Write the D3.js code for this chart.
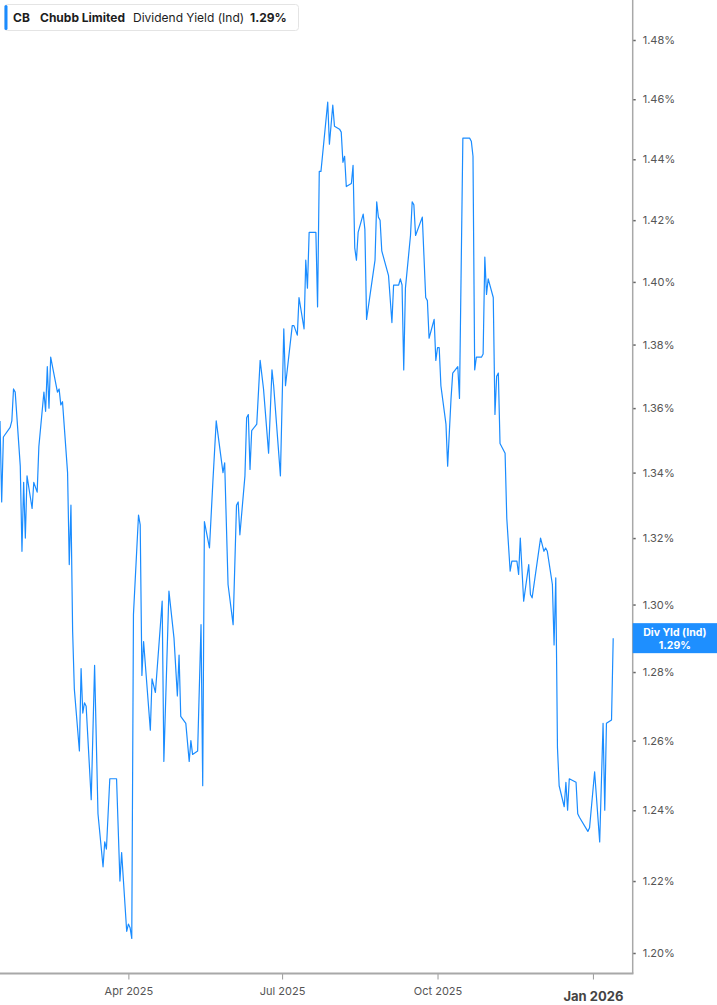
<!DOCTYPE html>
<html>
<head>
<meta charset="utf-8">
<script src="https://cdn.jsdelivr.net/npm/d3@7"></script>
<style>
  html, body { margin: 0; padding: 0; background: #fff; }
  svg { display: block; font-family: Inter, "Noto Sans", sans-serif; }
</style>
</head>
<body>
<svg id="chart" width="717" height="1005"></svg>
<script>
// trading days (2025-01-15 .. 2026-01-13)
const dates = [
  '2025-01-15','2025-01-16','2025-01-17','2025-01-21','2025-01-22','2025-01-23','2025-01-24',
  '2025-01-27','2025-01-28','2025-01-29','2025-01-30','2025-01-31','2025-02-03','2025-02-04',
  '2025-02-06','2025-02-07','2025-02-10','2025-02-11','2025-02-12','2025-02-13','2025-02-14',
  '2025-02-18','2025-02-19','2025-02-20','2025-02-21','2025-02-24','2025-02-25','2025-02-26',
  '2025-02-27','2025-02-28','2025-03-03','2025-03-04','2025-03-05','2025-03-06','2025-03-07',
  '2025-03-10','2025-03-12','2025-03-14','2025-03-17','2025-03-18','2025-03-19','2025-03-21',
  '2025-03-25','2025-03-27','2025-03-28','2025-03-31','2025-04-01','2025-04-02','2025-04-03',
  '2025-04-04','2025-04-07','2025-04-08','2025-04-09','2025-04-10','2025-04-14','2025-04-15',
  '2025-04-17','2025-04-21','2025-04-22','2025-04-25','2025-04-28','2025-04-30','2025-05-01',
  '2025-05-02','2025-05-05','2025-05-07','2025-05-08','2025-05-09','2025-05-12','2025-05-14',
  '2025-05-15','2025-05-16','2025-05-19','2025-05-21','2025-05-23','2025-05-27','2025-05-28',
  '2025-05-30','2025-06-02','2025-06-04','2025-06-05','2025-06-06','2025-06-09','2025-06-10',
  '2025-06-11','2025-06-12','2025-06-13','2025-06-16','2025-06-18','2025-06-20','2025-06-23',
  '2025-06-25','2025-06-26','2025-06-30','2025-07-02','2025-07-03','2025-07-07','2025-07-08',
  '2025-07-10','2025-07-11','2025-07-14','2025-07-15','2025-07-16','2025-07-17','2025-07-18',
  '2025-07-21','2025-07-22','2025-07-23','2025-07-24','2025-07-28','2025-07-29','2025-07-31',
  '2025-08-01','2025-08-04','2025-08-05','2025-08-06','2025-08-07','2025-08-08','2025-08-11',
  '2025-08-12','2025-08-13','2025-08-14','2025-08-15','2025-08-18','2025-08-19','2025-08-20',
  '2025-08-25','2025-08-26','2025-08-27','2025-08-28','2025-08-29','2025-09-02','2025-09-04',
  '2025-09-05','2025-09-08','2025-09-09','2025-09-10','2025-09-11','2025-09-12','2025-09-15',
  '2025-09-16','2025-09-17','2025-09-18','2025-09-22','2025-09-24','2025-09-25','2025-09-26',
  '2025-09-29','2025-09-30','2025-10-01','2025-10-02','2025-10-03','2025-10-06','2025-10-07',
  '2025-10-09','2025-10-10','2025-10-13','2025-10-14','2025-10-16','2025-10-17','2025-10-20',
  '2025-10-21','2025-10-22','2025-10-23','2025-10-24','2025-10-27','2025-10-28','2025-10-29',
  '2025-10-30','2025-10-31','2025-11-03','2025-11-04','2025-11-05','2025-11-06','2025-11-07',
  '2025-11-10','2025-11-11','2025-11-13','2025-11-14','2025-11-17','2025-11-18','2025-11-19',
  '2025-11-21','2025-11-24','2025-11-25','2025-11-26','2025-12-01','2025-12-03','2025-12-04',
  '2025-12-05','2025-12-08','2025-12-09','2025-12-10','2025-12-11','2025-12-12','2025-12-15',
  '2025-12-16','2025-12-17','2025-12-18','2025-12-22','2025-12-23','2025-12-24','2025-12-29',
  '2025-12-30','2026-01-02','2026-01-05','2026-01-07','2026-01-08','2026-01-09','2026-01-12',
  '2026-01-13'
]

// dividend yield (%), same order as dates
const yields = [
  1.356,1.331,1.351,1.354,1.356,1.366,1.365,
  1.342,1.316,1.337,1.320,1.339,1.329,1.337,
  1.334,1.348,1.365,1.359,1.373,1.360,1.376,
  1.365,1.366,1.361,1.362,1.340,1.312,1.330,
  1.292,1.275,1.257,1.281,1.268,1.271,1.270,
  1.243,1.282,1.239,1.224,1.231,1.229,1.249,
  1.249,1.220,1.228,1.206,1.208,1.207,1.204,
  1.297,1.327,1.324,1.279,1.289,1.263,1.278,
  1.274,1.301,1.254,1.304,1.290,1.273,1.285,
  1.267,1.265,1.254,1.260,1.256,1.257,1.294,
  1.247,1.325,1.317,1.337,1.356,1.340,1.343,
  1.306,1.294,1.330,1.331,1.321,1.339,1.357,
  1.358,1.341,1.353,1.355,1.375,1.366,1.346,
  1.372,1.367,1.339,1.385,1.367,1.386,1.386,
  1.383,1.395,1.385,1.407,1.398,1.416,1.416,
  1.416,1.392,1.436,1.436,1.459,1.445,1.458,
  1.451,1.450,1.449,1.439,1.441,1.431,1.432,
  1.438,1.411,1.407,1.416,1.422,1.417,1.388,
  1.407,1.426,1.421,1.420,1.410,1.402,1.387,
  1.399,1.399,1.401,1.399,1.372,1.398,1.415,
  1.426,1.425,1.415,1.421,1.395,1.394,1.382,
  1.388,1.375,1.379,1.379,1.367,1.355,1.342,
  1.363,1.371,1.373,1.363,1.447,1.447,1.447,
  1.446,1.441,1.372,1.376,1.376,1.377,1.408,
  1.396,1.401,1.395,1.358,1.370,1.371,1.349,
  1.346,1.326,1.310,1.313,1.313,1.309,1.320,
  1.301,1.312,1.303,1.302,1.320,1.316,1.317,
  1.316,1.306,1.288,1.308,1.258,1.247,1.241,
  1.248,1.240,1.249,1.248,1.239,1.238,1.234,
  1.235,1.251,1.231,1.265,1.240,1.265,1.266,
  1.290
]

const yTicks = [1.20,1.22,1.24,1.26,1.28,1.30,1.32,1.34,1.36,1.38,1.40,1.42,1.44,1.46,1.48]
const xTicks = ['2025-04-01','2025-07-01','2025-10-01','2026-01-01']

const ticker = 'CB'
const company = 'Chubb Limited'
const metric = 'Dividend Yield (Ind)'
const badgeLabel = 'Div Yld (Ind)'

const parse = d3.timeParse('%Y-%m-%d')
const series = dates.map((d, i) => ({ date: parse(d), value: yields[i] }))
const last = series[series.length - 1]

const W = 717, H = 1005
const plotRight = 632.7, plotBottom = 973.5
const blue = '#1a8cff'

const svg = d3.select('#chart')

const x = d3.scaleTime()
  .domain([parse('2025-01-15'), new Date(2026, 0, 24, 13)])
  .range([0, plotRight])

// the value axis is logarithmic: tick gaps widen toward the bottom
const y = d3.scaleLog()
  .domain([1.20, 1.48])
  .range([953, 40])

svg.append('defs').append('clipPath').attr('id', 'plot-clip')
  .append('rect').attr('x', 0).attr('y', 0).attr('width', plotRight).attr('height', plotBottom)

// line
const line = d3.line()
  .x(d => x(d.date))
  .y(d => y(d.value))

svg.append('path')
  .datum(series)
  .attr('clip-path', 'url(#plot-clip)')
  .attr('d', line)
  .attr('fill', 'none')
  .attr('stroke', blue)
  .attr('stroke-width', 1.2)
  .attr('stroke-linejoin', 'round')

// right axis
const yAxis = d3.axisRight(y)
  .tickValues(yTicks)
  .tickSize(3)
  .tickPadding(7)
  .tickFormat(d => d.toFixed(2) + '%')

const gy = svg.append('g')
  .attr('transform', `translate(${plotRight},0)`)
  .call(yAxis)
gy.select('.domain').remove()
gy.selectAll('.tick line').attr('stroke', '#666').attr('stroke-width', 1.5)
gy.selectAll('.tick text')
  .attr('fill', '#555')
  .style('font-size', '11px')
  .style('font-family', 'Inter, sans-serif')

svg.append('line')
  .attr('x1', plotRight).attr('x2', plotRight)
  .attr('y1', 0).attr('y2', plotBottom)
  .attr('stroke', '#a8a8a8').attr('stroke-width', 1.5)

// bottom axis
const xAxis = d3.axisBottom(x)
  .tickValues(xTicks.map(parse))
  .tickSize(6)
  .tickPadding(8)
  .tickFormat(d3.timeFormat('%b %Y'))

const gx = svg.append('g')
  .attr('transform', `translate(0,${plotBottom})`)
  .call(xAxis)
gx.select('.domain').remove()
gx.selectAll('.tick line').attr('stroke', '#999').attr('stroke-width', 1)
gx.selectAll('.tick text')
  .attr('fill', '#555')
  .style('font-size', '11px')
  .style('font-family', 'Inter, sans-serif')
gx.selectAll('.tick text')
  .filter(d => d.getMonth() === 0)
  .attr('fill', '#444')
  .attr('dy', '1.05em')
  .style('font-size', '13px')
  .style('font-weight', 'bold')

svg.append('line')
  .attr('x1', 0).attr('x2', plotRight + 0.75)
  .attr('y1', plotBottom).attr('y2', plotBottom)
  .attr('stroke', '#a8a8a8').attr('stroke-width', 2)

// last-value badge on the axis
const by = y(last.value)
const bx = (plotRight + W) / 2
svg.append('rect')
  .attr('x', plotRight).attr('y', by - 15)
  .attr('width', W - plotRight).attr('height', 30)
  .attr('fill', '#1e8fff')
svg.selectAll('text.badge')
  .data([{ t: badgeLabel, dy: -2.2 }, { t: last.value.toFixed(2) + '%', dy: 10.8 }])
  .join('text')
  .attr('class', 'badge')
  .attr('x', bx).attr('y', d => by + d.dy)
  .attr('text-anchor', 'middle')
  .attr('fill', '#fff')
  .style('font-size', '10.5px').style('font-weight', 'bold')
  .text(d => d.t)

// legend header
const lg = svg.append('g').attr('transform', 'translate(4,4)')
lg.append('rect')
  .attr('x', 0.5).attr('y', 0.5).attr('width', 294).attr('height', 26)
  .attr('rx', 3)
  .attr('fill', '#fff').attr('stroke', '#e4e4e4')
lg.append('rect')
  .attr('x', 0.5).attr('y', 1).attr('width', 3).attr('height', 25)
  .attr('rx', 1.5)
  .attr('fill', blue)

const parts = [
  { t: ticker, x: 9, w: 'bold' },
  { t: company, x: 36, w: 'bold' },
  { t: metric, x: 129, w: 'normal' },
  { t: last.value.toFixed(2) + '%', x: 246, w: 'bold' }
]
lg.selectAll('text.part')
  .data(parts)
  .join('text')
  .attr('class', 'part')
  .attr('x', d => d.x)
  .attr('y', 17.5)
  .attr('fill', '#1d1d1d')
  .style('font-size', '12px')
  .style('font-weight', d => d.w)
  .text(d => d.t)
</script>
</body>
</html>
